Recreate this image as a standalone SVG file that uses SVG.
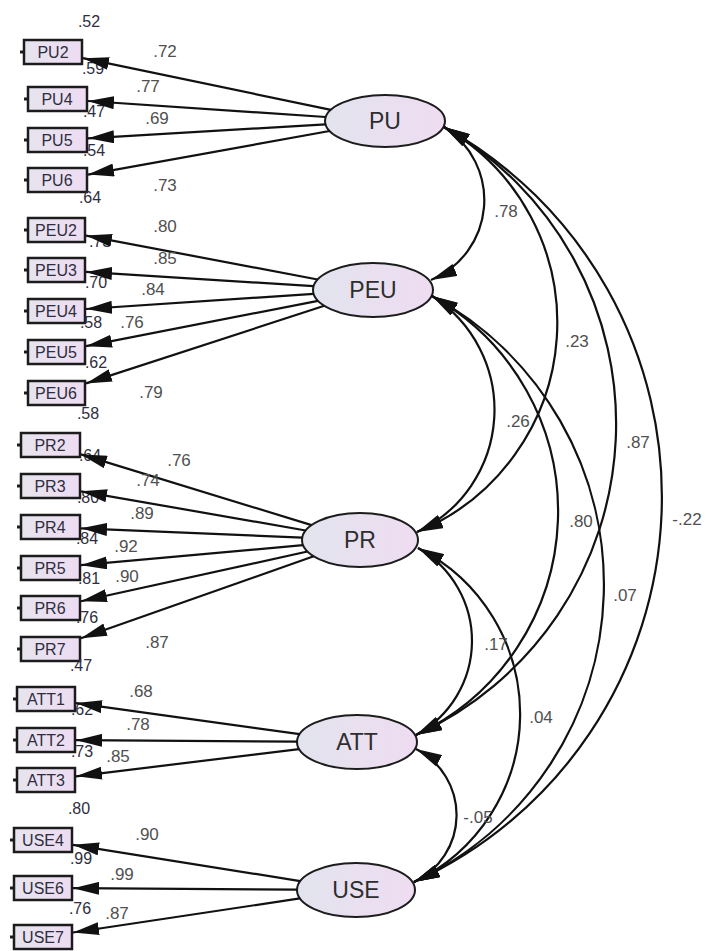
<svg xmlns="http://www.w3.org/2000/svg" width="706" height="951" viewBox="0 0 706 951">
  <defs>
    <linearGradient id="latentFill" x1="0" y1="0" x2="1" y2="0">
      <stop offset="0" stop-color="#e2e4ee"/>
      <stop offset="1" stop-color="#efdcf1"/>
    </linearGradient>
    <linearGradient id="itemFill" x1="0" y1="0" x2="1" y2="0">
      <stop offset="0" stop-color="#e6e4ee"/>
      <stop offset="1" stop-color="#eedcf2"/>
    </linearGradient>
    <marker id="head" markerUnits="userSpaceOnUse" markerWidth="26" markerHeight="13" viewBox="0 0 26 13" refX="26" refY="6.5" orient="auto-start-reverse">
      <path d="M0,0 L26,6.5 L0,13 z" fill="#111"/>
    </marker>
  </defs>
  <style>
    .item rect { fill: url(#itemFill); stroke: #1c1c1c; stroke-width: 2.5; }
    .item line { stroke: #1c1c1c; stroke-width: 3; }
    .item text { font-family: "Liberation Sans", Arial, sans-serif; font-size: 16px; fill: #2e2e40; text-anchor: middle; }
    .latent ellipse { fill: url(#latentFill); stroke: #1c1c1c; stroke-width: 2; }
    .latent text { font-family: "Liberation Sans", Arial, sans-serif; font-size: 23px; fill: #2e2e2e; text-anchor: middle; }
    .num { font-family: "Liberation Sans", Arial, sans-serif; font-size: 17px; fill: #505050; text-anchor: middle; }
    .load { fill: none; stroke: #111; stroke-width: 2.2; marker-end: url(#head); }
    .cov { fill: none; stroke: #111; stroke-width: 2.2; marker-start: url(#head); marker-end: url(#head); }
  </style>

  <rect width="706" height="951" fill="#fff"/>

  <!-- observed indicators: box, error stub, squared multiple correlation -->
  <g id="PU2" class="item"><rect x="24" y="40" width="58" height="24"/><line x1="20" y1="52" x2="23" y2="52"/><text x="53" y="58">PU2</text><text class="num" x="89" y="27">.52</text></g>
  <g id="PU4" class="item"><rect x="28" y="87" width="59" height="24"/><line x1="24" y1="99" x2="27" y2="99"/><text x="57" y="105">PU4</text><text class="num" x="93" y="74">.59</text></g>
  <g id="PU5" class="item"><rect x="28" y="128" width="59" height="24"/><line x1="24" y1="140" x2="27" y2="140"/><text x="57" y="146">PU5</text><text class="num" x="94" y="117">.47</text></g>
  <g id="PU6" class="item"><rect x="28" y="168" width="59" height="24"/><line x1="24" y1="180" x2="27" y2="180"/><text x="57" y="186">PU6</text><text class="num" x="94" y="156">.54</text></g>

  <g id="PEU2" class="item"><rect x="28" y="218" width="57" height="24"/><line x1="24" y1="230" x2="27" y2="230"/><text x="56" y="236">PEU2</text><text class="num" x="90" y="203">.64</text></g>
  <g id="PEU3" class="item"><rect x="28" y="258" width="57" height="24"/><line x1="24" y1="270" x2="27" y2="270"/><text x="56" y="276">PEU3</text><text class="num" x="100" y="247">.73</text></g>
  <g id="PEU4" class="item"><rect x="28" y="299" width="57" height="24"/><line x1="24" y1="311" x2="27" y2="311"/><text x="56" y="317">PEU4</text><text class="num" x="96" y="288">.70</text></g>
  <g id="PEU5" class="item"><rect x="28" y="340" width="57" height="24"/><line x1="24" y1="352" x2="27" y2="352"/><text x="56" y="358">PEU5</text><text class="num" x="91" y="328">.58</text></g>
  <g id="PEU6" class="item"><rect x="28" y="381" width="57" height="24"/><line x1="24" y1="393" x2="27" y2="393"/><text x="56" y="399">PEU6</text><text class="num" x="96" y="368">.62</text></g>

  <g id="PR2" class="item"><rect x="21" y="433" width="59" height="24"/><line x1="17" y1="445" x2="20" y2="445"/><text x="50" y="451">PR2</text><text class="num" x="88" y="419">.58</text></g>
  <g id="PR3" class="item"><rect x="21" y="474" width="59" height="24"/><line x1="17" y1="486" x2="20" y2="486"/><text x="50" y="492">PR3</text><text class="num" x="90" y="461">.64</text></g>
  <g id="PR4" class="item"><rect x="21" y="515" width="59" height="24"/><line x1="17" y1="527" x2="20" y2="527"/><text x="50" y="533">PR4</text><text class="num" x="88" y="503">.80</text></g>
  <g id="PR5" class="item"><rect x="21" y="556" width="59" height="24"/><line x1="17" y1="568" x2="20" y2="568"/><text x="50" y="574">PR5</text><text class="num" x="87" y="544">.84</text></g>
  <g id="PR6" class="item"><rect x="21" y="596" width="59" height="24"/><line x1="17" y1="608" x2="20" y2="608"/><text x="50" y="614">PR6</text><text class="num" x="89" y="584">.81</text></g>
  <g id="PR7" class="item"><rect x="21" y="637" width="59" height="24"/><line x1="17" y1="649" x2="20" y2="649"/><text x="50" y="655">PR7</text><text class="num" x="87" y="623">.76</text></g>

  <g id="ATT1" class="item"><rect x="17" y="687" width="58" height="24"/><line x1="13" y1="699" x2="16" y2="699"/><text x="46" y="705">ATT1</text><text class="num" x="81" y="671">.47</text></g>
  <g id="ATT2" class="item"><rect x="17" y="728" width="58" height="24"/><line x1="13" y1="740" x2="16" y2="740"/><text x="46" y="746">ATT2</text><text class="num" x="82" y="715">.62</text></g>
  <g id="ATT3" class="item"><rect x="17" y="768" width="58" height="24"/><line x1="13" y1="780" x2="16" y2="780"/><text x="46" y="786">ATT3</text><text class="num" x="82" y="757">.73</text></g>

  <g id="USE4" class="item"><rect x="14" y="828" width="58" height="24"/><line x1="10" y1="840" x2="13" y2="840"/><text x="43" y="846">USE4</text><text class="num" x="79" y="814">.80</text></g>
  <g id="USE6" class="item"><rect x="14" y="876" width="58" height="24"/><line x1="10" y1="888" x2="13" y2="888"/><text x="43" y="894">USE6</text><text class="num" x="81" y="864">.99</text></g>
  <g id="USE7" class="item"><rect x="14" y="925" width="58" height="24"/><line x1="10" y1="937" x2="13" y2="937"/><text x="43" y="943">USE7</text><text class="num" x="80" y="914">.76</text></g>

  <!-- latent constructs -->
  <g id="PU" class="latent"><ellipse cx="385" cy="121" rx="60" ry="26"/><text x="385" y="129">PU</text></g>
  <g id="PEU" class="latent"><ellipse cx="373" cy="290" rx="60" ry="27"/><text x="373" y="298">PEU</text></g>
  <g id="PR" class="latent"><ellipse cx="360" cy="540" rx="58" ry="27"/><text x="360" y="548">PR</text></g>
  <g id="ATT" class="latent"><ellipse cx="357" cy="742" rx="60" ry="27"/><text x="357" y="750">ATT</text></g>
  <g id="USE" class="latent"><ellipse cx="356" cy="890" rx="59" ry="27"/><text x="356" y="898">USE</text></g>

  <!-- connectors: factor loadings and covariances -->
  <g id="connectors">
    <path class="load" d="M330.9,109.8 L83,58.2"/>
    <path class="load" d="M325.7,117 L88,101"/>
    <path class="load" d="M325.5,124.4 L88,138.3"/>
    <path class="load" d="M329.6,131 L88,174.6"/>

    <path class="load" d="M317.7,279.5 L86,235.6"/>
    <path class="load" d="M313.6,286.2 L86,271.9"/>
    <path class="load" d="M313.7,293.9 L86,309"/>
    <path class="load" d="M318,300.8 L86,346.2"/>
    <path class="load" d="M324.4,305.8 L86,383.4"/>

    <path class="load" d="M311.6,525.1 L81,454.4"/>
    <path class="load" d="M305.7,530.5 L81,491.3"/>
    <path class="load" d="M302.2,537.6 L81,528.3"/>
    <path class="load" d="M303.1,545.2 L81,565.2"/>
    <path class="load" d="M307.5,551.5 L81,601.3"/>
    <path class="load" d="M313.7,556.3 L81,638.3"/>

    <path class="load" d="M299.7,734.1 L76,703.1"/>
    <path class="load" d="M297,741.6 L76,740.2"/>
    <path class="load" d="M299.1,749.1 L76,776.3"/>

    <path class="load" d="M300.3,881.1 L73,844.8"/>
    <path class="load" d="M297,889.6 L73,888.2"/>
    <path class="load" d="M299.9,898.4 L73,932.5"/>

    <path class="cov" d="M444,127 A86.5,86.5 0 0 1 431,280"/>
    <path class="cov" d="M444,127 A226,226 0 0 1 417,532"/>
    <path class="cov" d="M444,127 A342,342 0 0 1 416,735"/>
    <path class="cov" d="M444,127 A423,423 0 0 1 414,882"/>
    <path class="cov" d="M432,296 A135,135 0 0 1 417,532"/>
    <path class="cov" d="M432,296 A247,247 0 0 1 416,735"/>
    <path class="cov" d="M432,296 A328,328 0 0 1 414,882"/>
    <path class="cov" d="M418,548 A107,107 0 0 1 416,735"/>
    <path class="cov" d="M418,548 A186,186 0 0 1 414,882"/>
    <path class="cov" d="M416,749 A74,74 0 0 1 414,882"/>

    <!-- loading estimates -->
    <text class="num" x="165" y="57">.72</text>
    <text class="num" x="148" y="92">.77</text>
    <text class="num" x="157" y="124">.69</text>
    <text class="num" x="165" y="191">.73</text>
    <text class="num" x="165" y="232">.80</text>
    <text class="num" x="165" y="264">.85</text>
    <text class="num" x="153" y="295">.84</text>
    <text class="num" x="132" y="328">.76</text>
    <text class="num" x="151" y="398">.79</text>
    <text class="num" x="179" y="466">.76</text>
    <text class="num" x="148" y="486">.74</text>
    <text class="num" x="142" y="519">.89</text>
    <text class="num" x="126" y="552">.92</text>
    <text class="num" x="127" y="582">.90</text>
    <text class="num" x="157" y="648">.87</text>
    <text class="num" x="141" y="697">.68</text>
    <text class="num" x="138" y="730">.78</text>
    <text class="num" x="118" y="762">.85</text>
    <text class="num" x="147" y="840">.90</text>
    <text class="num" x="122" y="880">.99</text>
    <text class="num" x="117" y="919">.87</text>

    <!-- correlation estimates -->
    <text class="num" x="506" y="217">.78</text>
    <text class="num" x="577" y="347">.23</text>
    <text class="num" x="518" y="427">.26</text>
    <text class="num" x="638" y="448">.87</text>
    <text class="num" x="581" y="527">.80</text>
    <text class="num" x="687" y="525">-.22</text>
    <text class="num" x="625" y="601">.07</text>
    <text class="num" x="496" y="650">.17</text>
    <text class="num" x="541" y="723">.04</text>
    <text class="num" x="478" y="823">-.05</text>
  </g>
</svg>
